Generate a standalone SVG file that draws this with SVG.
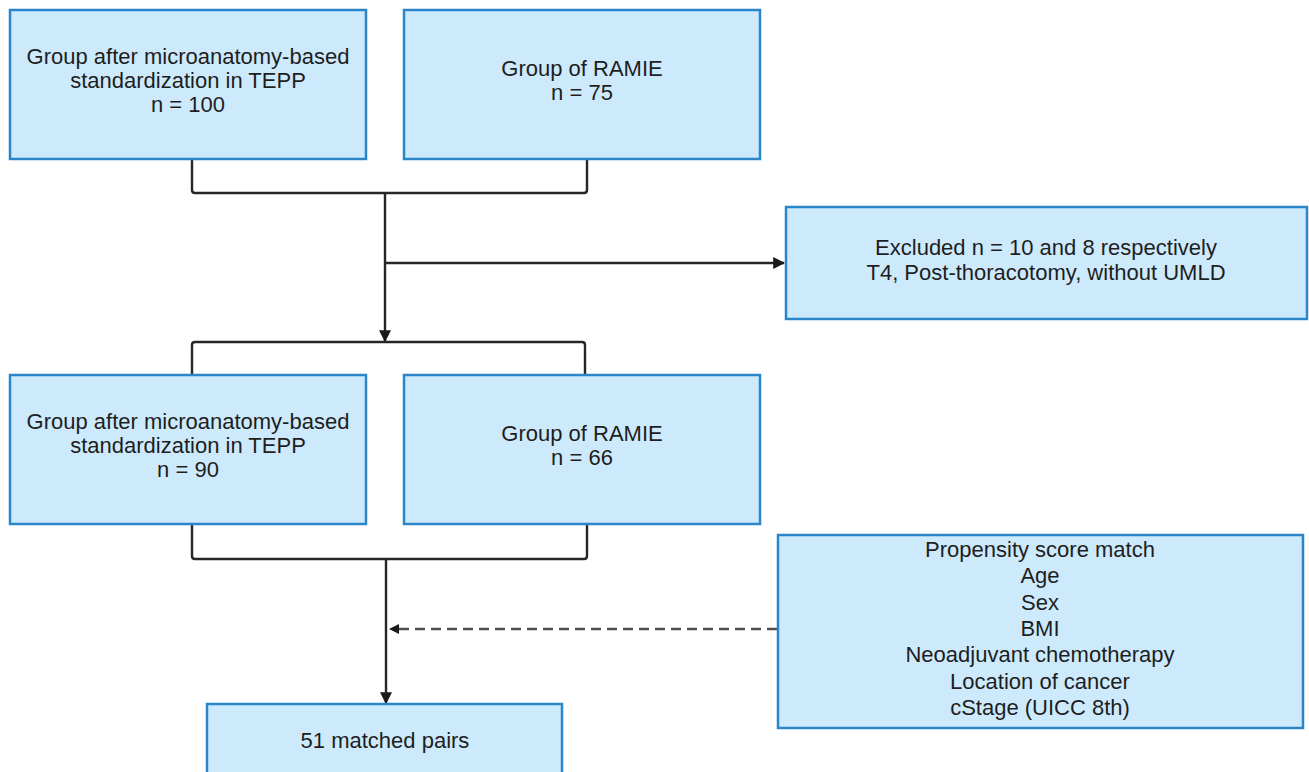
<svg xmlns="http://www.w3.org/2000/svg" width="1309" height="772" viewBox="0 0 1309 772">
<style>
.box{fill:#cdeafc;stroke:#2a86c9;stroke-width:2.5}
.t{font-family:"Liberation Sans",Arial,sans-serif;font-size:22px;fill:#1e1e1e;text-anchor:middle}
.ln{fill:none;stroke:#262626;stroke-width:2.4;stroke-linejoin:round}
.dash{fill:none;stroke:#505050;stroke-width:2.5;stroke-dasharray:10,6}
</style>
<defs>
<marker id="ah" viewBox="0 0 10 10" refX="9" refY="5" markerWidth="5" markerHeight="5" orient="auto" markerUnits="strokeWidth">
<path d="M0,0 L10,5 L0,10 z" fill="#1a1a1a"/>
</marker>
</defs>
<rect width="1309" height="772" fill="#ffffff"/>
<g id="connectors">
<path class="ln" d="M192,159 V190 Q192,193 195,193 H584 Q587,193 587,190 V159"/>
<path class="ln" d="M385,193 V341" marker-end="url(#ah)"/>
<path class="ln" d="M385,263 H784" marker-end="url(#ah)"/>
<path class="ln" d="M192,375 V345 Q192,342 195,342 H582 Q585,342 585,345 V375"/>
<path class="ln" d="M192,524 V556 Q192,559 195,559 H584 Q587,559 587,556 V524"/>
<path class="ln" d="M386,559 V703" marker-end="url(#ah)"/>
<path class="dash" d="M777,629 H397"/>
<path d="M389,629 L399,624 L399,634 z" fill="#1a1a1a"/>
</g>
<g id="n1">
<rect class="box" x="10" y="10" width="356" height="149"/>
<text class="t" x="188" y="64">Group after microanatomy-based</text>
<text class="t" x="188" y="88">standardization in TEPP</text>
<text class="t" x="188" y="112">n = 100</text>
</g>
<g id="n2">
<rect class="box" x="404" y="10" width="356" height="149"/>
<text class="t" x="582" y="76">Group of RAMIE</text>
<text class="t" x="582" y="100">n = 75</text>
</g>
<g id="n3">
<rect class="box" x="786" y="207" width="521" height="112"/>
<text class="t" x="1046" y="255">Excluded n = 10 and 8 respectively</text>
<text class="t" x="1046" y="280">T4, Post-thoracotomy, without UMLD</text>
</g>
<g id="n4">
<rect class="box" x="10" y="375" width="356" height="149"/>
<text class="t" x="188" y="429">Group after microanatomy-based</text>
<text class="t" x="188" y="453">standardization in TEPP</text>
<text class="t" x="188" y="477">n = 90</text>
</g>
<g id="n5">
<rect class="box" x="404" y="375" width="356" height="149"/>
<text class="t" x="582" y="441">Group of RAMIE</text>
<text class="t" x="582" y="465">n = 66</text>
</g>
<g id="n6">
<rect class="box" x="778" y="535" width="525" height="193"/>
<text class="t" x="1040" y="557">Propensity score match</text>
<text class="t" x="1040" y="583">Age</text>
<text class="t" x="1040" y="609.5">Sex</text>
<text class="t" x="1040" y="636">BMI</text>
<text class="t" x="1040" y="662">Neoadjuvant chemotherapy</text>
<text class="t" x="1040" y="688.5">Location of cancer</text>
<text class="t" x="1040" y="715">cStage (UICC 8th)</text>
</g>
<g id="n7">
<rect class="box" x="207" y="704" width="355" height="80"/>
<text class="t" x="385" y="748">51 matched pairs</text>
</g>
</svg>
